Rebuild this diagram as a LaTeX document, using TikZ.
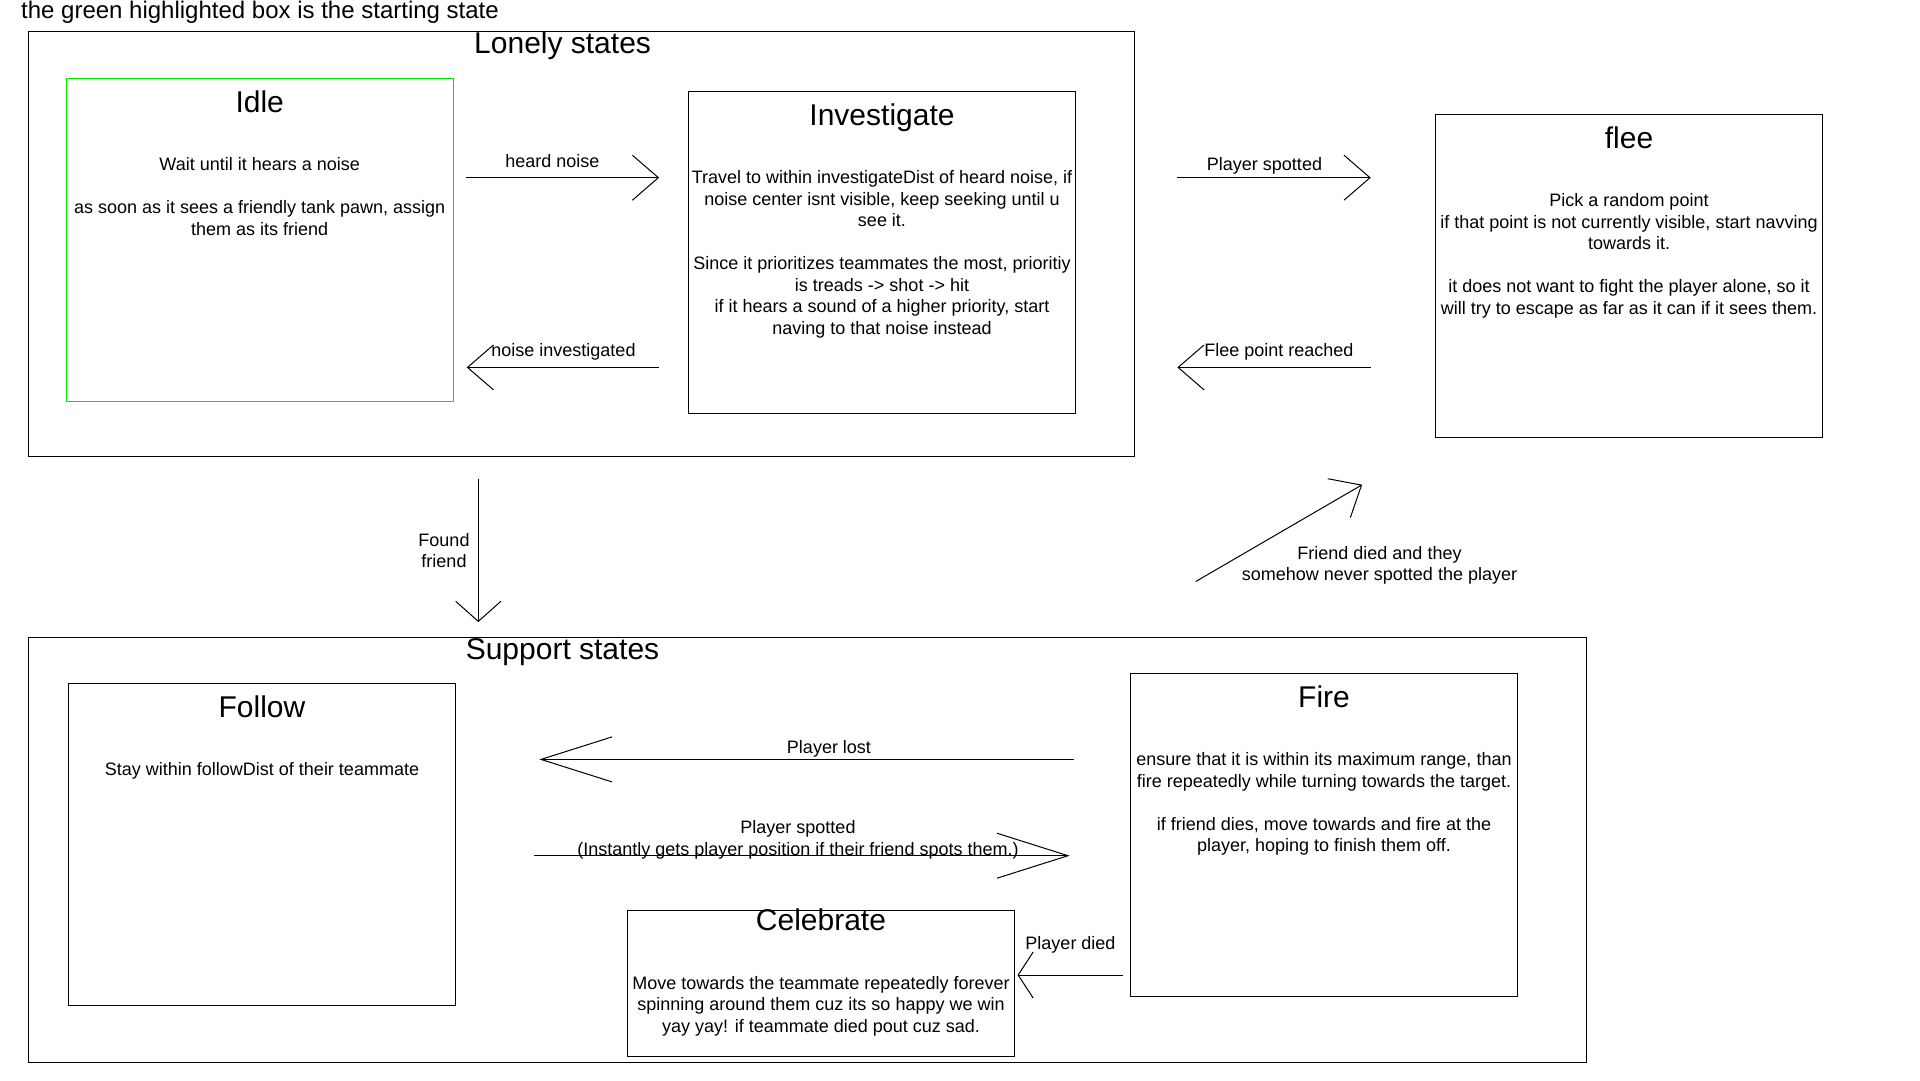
\documentclass[tikz,border=0pt]{standalone}
\usepackage{fontspec}
\setmainfont{Liberation Sans}
\usetikzlibrary{arrows.meta}
\definecolor{startgreen}{RGB}{0,230,0}

\begin{document}
\begin{tikzpicture}[x=1pt, y=-1pt,
    state/.style ={draw, line width=1.1pt, minimum width=387pt, minimum height=322.6pt, inner sep=0pt},
    group/.style ={draw, line width=1.2pt, inner sep=0pt},
    heading/.style ={font=\fontsize{30}{36}\selectfont, inner sep=0pt},
    statename/.style ={heading, anchor=base},
    description/.style ={font=\fontsize{18}{21.5}\selectfont, align=center, inner sep=0pt, anchor=north},
    caption/.style ={font=\fontsize{18}{21.5}\selectfont, align=center, inner sep=0pt},
    transition/.style ={line width=1pt, -{Straight Barb[length=26pt, width=45pt]}},
    longhead/.style ={-{Straight Barb[length=71pt, width=45pt]}}]
   \useasboundingbox (0,0) rectangle (1920,1080);
   \node[font=\fontsize{24}{28}\selectfont, inner sep=0pt] (note) at (260,12.3) {the green highlighted box is the starting state};

   % groups
   \node[group, minimum width=1106.3pt, minimum height=424.8pt] (lonely) at (581.3,243.9) {};
   \node[heading] (lonelytitle) at (562.6,46.2) {Lonely states};
   \node[group, minimum width=1558.2pt, minimum height=424.9pt] (support) at (807.3,850) {};
   \node[heading] (supporttitle) at (562.5,652) {Support states};

   % states
   \node[state, draw=startgreen] (idle) at (259.7,239.9) {};
   \node[state] (investigate) at (882,252.6) {};
   \node[state] (flee) at (1629,275.8) {};
   \node[state] (follow) at (262,844.5) {};
   \node[state] (fire) at (1324,834.8) {};
   \node[state, minimum height=146pt] (celebrate) at (821,983.2) {};

   \node[statename] at ([yshift=-34.6pt]idle.north) {Idle};
   \node[statename] at ([yshift=-34.6pt]investigate.north) {Investigate};
   \node[statename] at ([yshift=-34.6pt]flee.north) {flee};
   \node[statename] at ([yshift=-34.6pt]follow.north) {Follow};
   \node[statename] at ([yshift=-34.6pt]fire.north) {Fire};
   \node[statename] at ([yshift=-21.3pt]celebrate.north) {Celebrate};

   \node[description] (idletext) at ([yshift=-79.5pt]idle.north) {Wait until it hears a noise\\[21.5pt]
     as soon as it sees a friendly tank pawn, assign\\ them as its friend};
   \node[description] (investigatetext) at ([yshift=-79.5pt]investigate.north) {Travel to within investigateDist of heard noise, if\\
     noise center isnt visible, keep seeking until u\\ see it.\\[21.5pt]
     Since it prioritizes teammates the most, prioritiy\\ is treads -> shot -> hit\\
     if it hears a sound of a higher priority, start\\ naving to that noise instead};
   \node[description] (fleetext) at ([yshift=-79.5pt]flee.north) {Pick a random point\\
     if that point is not currently visible, start navving\\ towards it.\\[21.5pt]
     it does not want to fight the player alone, so it\\ will try to escape as far as it can if it sees them.};
   \node[description] (followtext) at ([yshift=-79.5pt]follow.north) {Stay within followDist of their teammate};
   \node[description] (firetext) at ([yshift=-79.5pt]fire.north) {ensure that it is within its maximum range, than\\
     fire repeatedly while turning towards the target.\\[21.5pt]
     if friend dies, move towards and fire at the\\ player, hoping to finish them off.};
   \node[description] (celebratetext) at ([yshift=-66.5pt]celebrate.north) {Move towards the teammate repeatedly forever\\
     spinning around them cuz its so happy we win\\ yay yay! if teammate died pout cuz sad.};

   % transitions
   \draw[transition, shorten <=12.7pt, shorten >=28.8pt] (idle.east |- 0,177.7) to (investigate.west |- 0,177.7);
   \draw[transition, shorten <=28.8pt, shorten >=13pt] (investigate.west |- 0,367.4) to (idle.east |- 0,367.4);
   \draw[transition, shorten <=42.3pt, shorten >=64.2pt] (lonely.east |- 0,177.7) to (flee.west |- 0,177.7);
   \draw[transition, shorten <=64.2pt, shorten >=42.3pt] (flee.west |- 0,367.4) to (lonely.east |- 0,367.4);
   \draw[transition, -{Straight Barb[length=20pt, width=45pt]}, shorten <=21.7pt, shorten >=14.9pt] (lonely.south -| 478.3,0) to (support.north -| 478.3,0);
   \draw[transition, shorten <=110.3pt, shorten >=93.6pt] (support.north -| 1100.4,0) to (flee.south -| 1443.1,0);
   \draw[transition, longhead, shorten <=56pt, shorten >=83.3pt] (fire.west |- 0,759.4) to (follow.east |- 0,759.4);
   \draw[transition, longhead, shorten <=78.4pt, shorten >=60.3pt] (follow.east |- 0,855.7) to (fire.west |- 0,855.7);
   \draw[transition, -{Straight Barb[length=15pt, width=46pt]}, shorten <=6.5pt, shorten >=2.5pt] (fire.west |- 0,975) to (celebrate.east |- 0,975);

   \node[caption] (heard) at (552.5,161) {heard noise};
   \node[caption] (investigated) at (563.5,352) {noise investigated};
   \node[caption] (spotted) at (1264.5,166) {Player spotted};
   \node[caption] (reached) at (1278.8,351.5) {Flee point reached};
   \node[caption] (found) at (444,550.5) {Found\\ friend};
   \node[caption] (died) at (1379.5,565.5) {Friend died and they\\ somehow never spotted the player};
   \node[caption] (lost) at (829,748.5) {Player lost};
   \node[caption] (spottedfriend) at (798,840) {Player spotted\\ (Instantly gets player position if their friend spots them.)};
   \node[caption] (playerdied) at (1070.5,944.5) {Player died};
\end{tikzpicture}
\end{document}
